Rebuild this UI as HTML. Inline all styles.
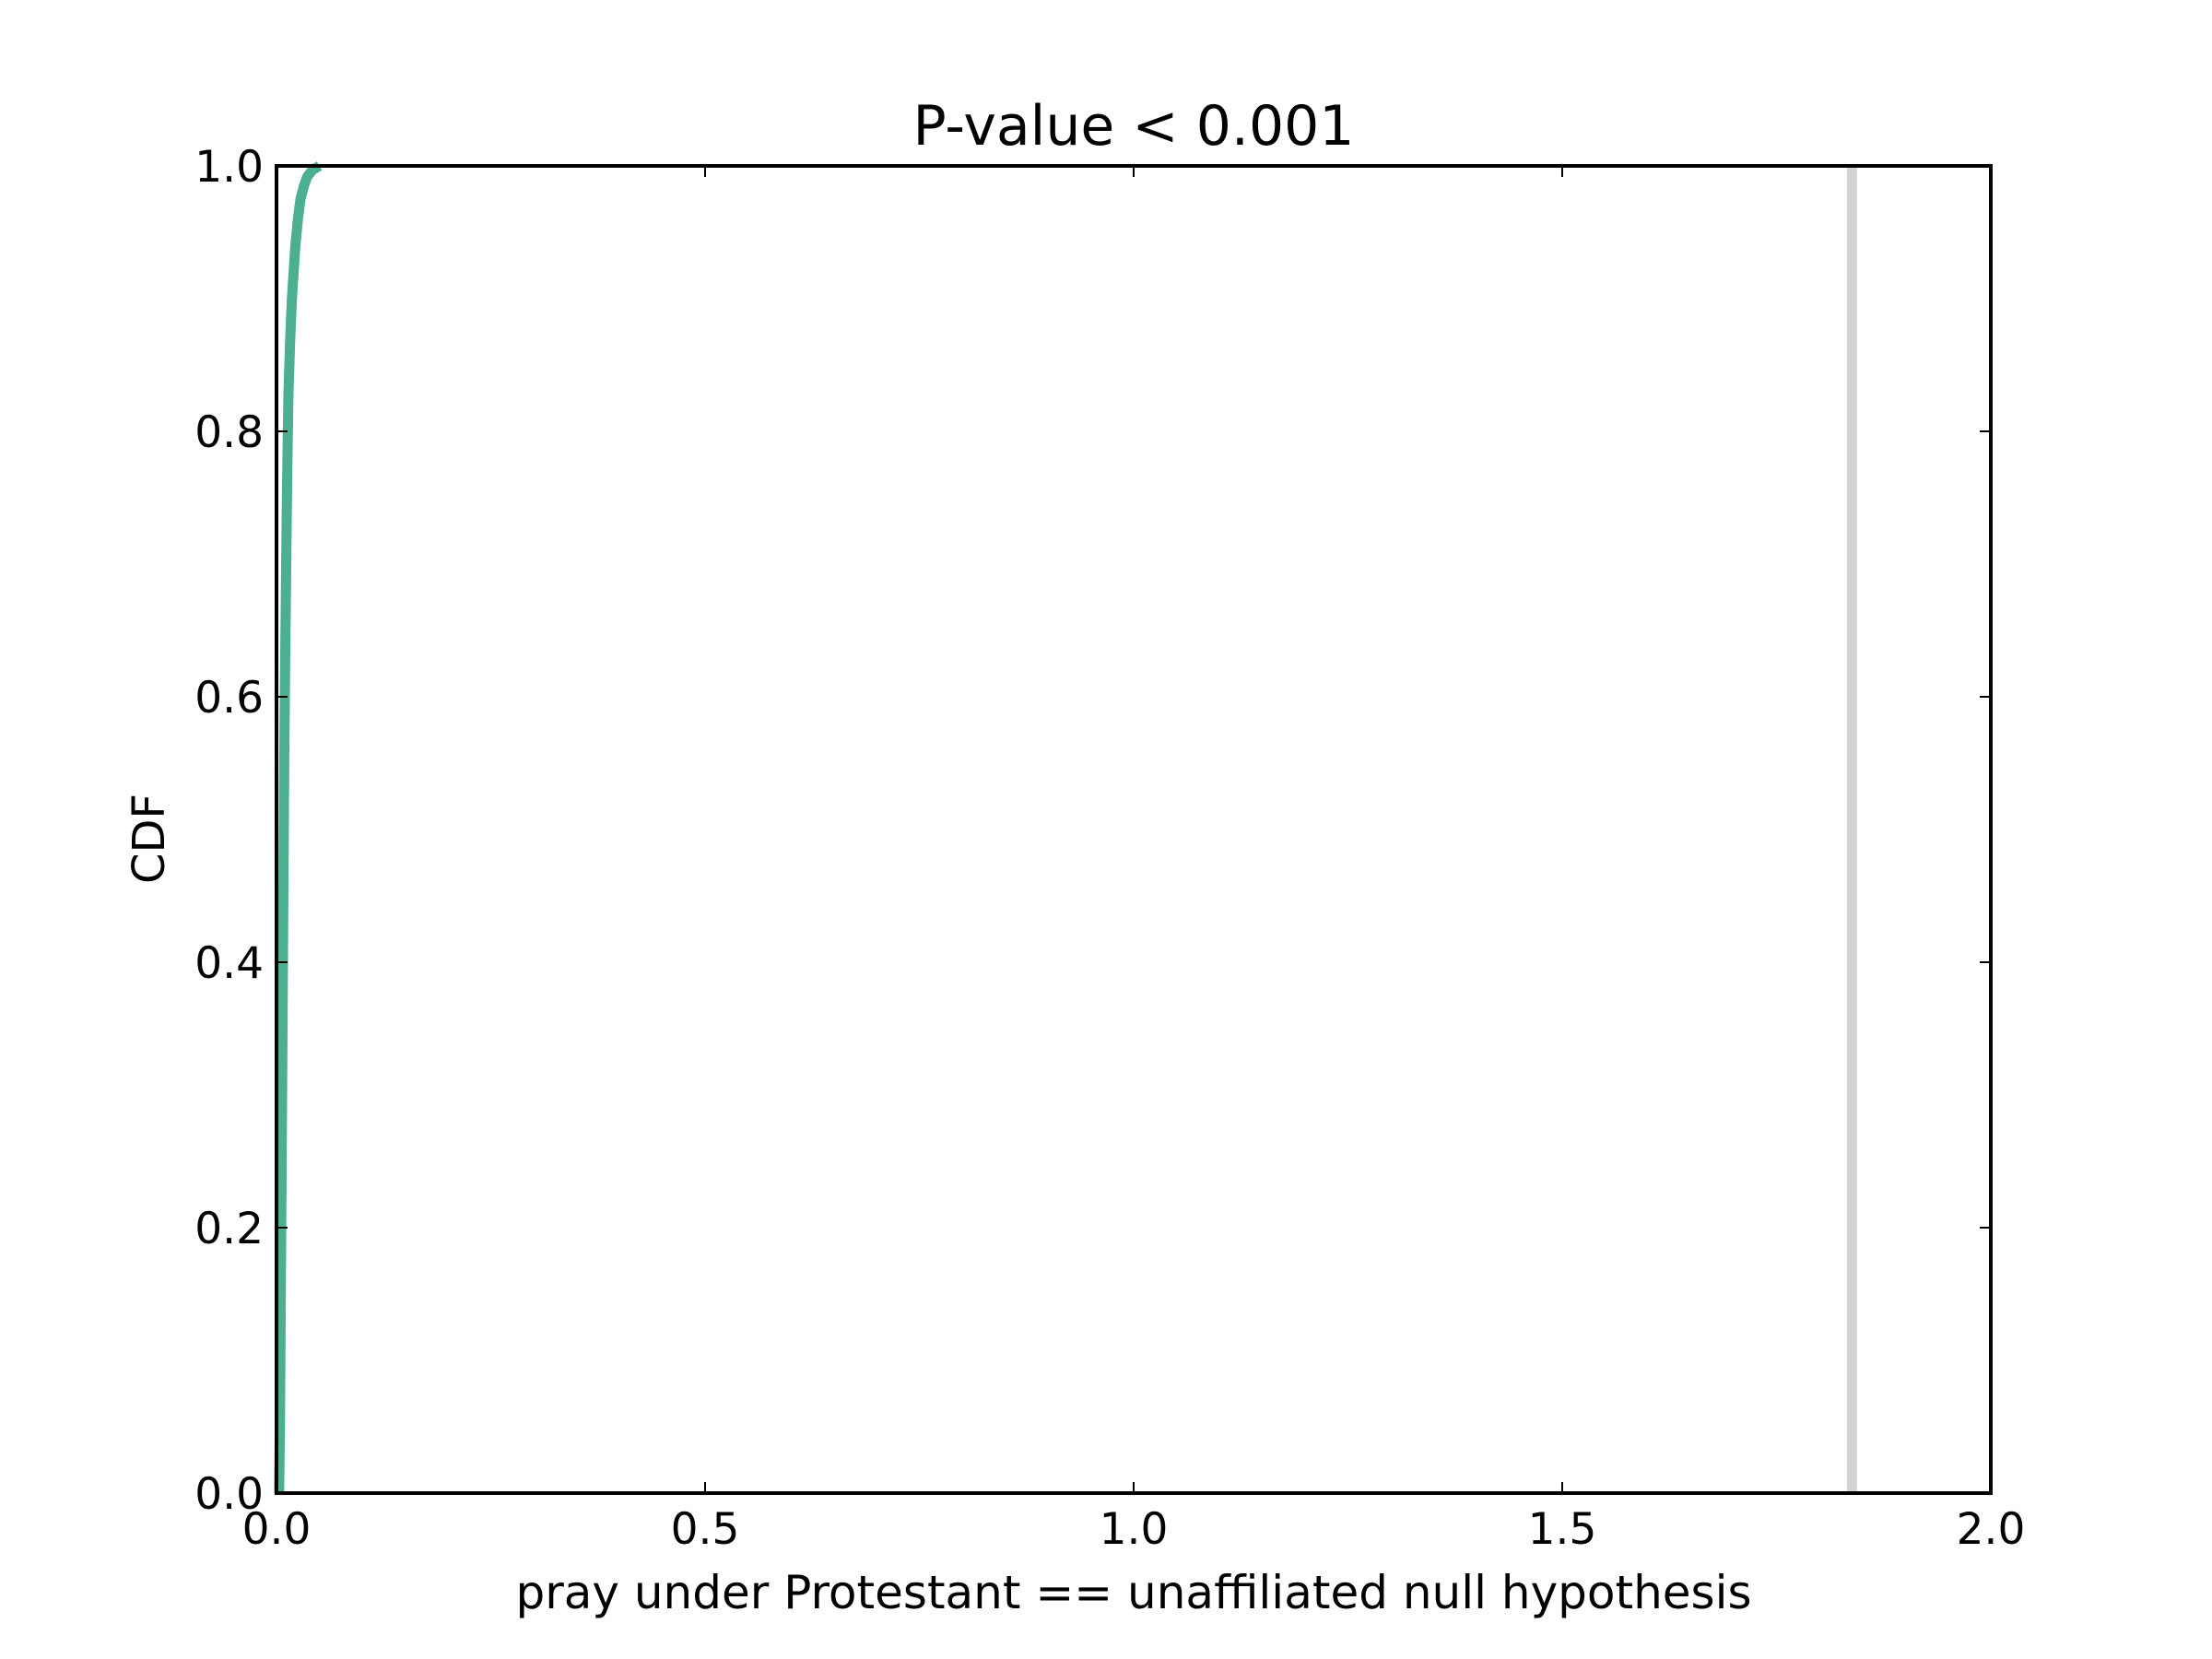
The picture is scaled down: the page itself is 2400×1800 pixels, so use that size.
<!DOCTYPE html>
<html><head><meta charset="utf-8"><style>
html,body{margin:0;padding:0;background:#fff;}
svg{display:block;font-family:"DejaVu Sans","Liberation Sans",sans-serif;}
</style></head><body>
<svg id="chart" width="2400" height="1800">
<g id="plot"></g>
</svg>
<script>
const xs=[0.003,0.004,0.005,0.006,0.007,0.008,0.009,0.010,0.011,0.012,0.013,0.014,0.016,0.018,0.020,0.022,0.025,0.028,0.032,0.036,0.042,0.050];
const cdf=[0.0,0.05,0.15,0.25,0.35,0.45,0.55,0.62,0.68,0.74,0.79,0.83,0.87,0.90,0.92,0.94,0.96,0.975,0.985,0.992,0.997,1.0];
const xTicks=[0,0.5,1.0,1.5,2.0];
const xTickLabels=["0.0","0.5","1.0","1.5","2.0"];
const yTicks=[0,0.2,0.4,0.6,0.8,1.0];
const yTickLabels=["0.0","0.2","0.4","0.6","0.8","1.0"];
const observed=[1.838];
const L=300,R=2160,T=180,B=1620;
const sx=v=>L+(v-0)/(2-0)*(R-L);
const sy=v=>B-(v-0)/(1-0)*(B-T);
const NS="http://www.w3.org/2000/svg";
const g=document.getElementById('plot');
function mk(t,a){const e=document.createElementNS(NS,t);for(const k in a)e.setAttribute(k,a[k]);g.appendChild(e);return e;}
observed.forEach(v=>{const l=mk('line',{x1:sx(v),x2:sx(v),y1:T,y2:B,stroke:'#d4d4d4','stroke-width':11});

});
const p=mk('polyline',{points:xs.map((x,i)=>sx(x)+','+sy(cdf[i])).join(' '),fill:'none',stroke:'#4daf91','stroke-width':11,'stroke-linejoin':'round'});


const fr=mk('rect',{x:L,y:T,width:R-L,height:B-T,fill:'none',stroke:'#000','stroke-width':4});


xTicks.forEach((v,i)=>{const x=sx(v);
mk('line',{x1:x,x2:x,y1:B,y2:B-12,stroke:'#000','stroke-width':2});
mk('line',{x1:x,x2:x,y1:T,y2:T+12,stroke:'#000','stroke-width':2});
const t=mk('text',{x:x,y:B+55,'font-size':47,'text-anchor':'middle'});t.textContent=xTickLabels[i];

});
yTicks.forEach((v,i)=>{const y=sy(v);
mk('line',{x1:L,x2:L+12,y1:y,y2:y,stroke:'#000','stroke-width':2});
mk('line',{x1:R,x2:R-12,y1:y,y2:y,stroke:'#000','stroke-width':2});
const t=mk('text',{x:L-14,y:y+17,'font-size':47,'text-anchor':'end'});t.textContent=yTickLabels[i];

});
</script>
<svg style="position:absolute;left:0;top:0" width="2400" height="1800">
<text x="1230" y="157" font-size="60" text-anchor="middle">P-value &lt; 0.001</text>
<text x="1230" y="1745" font-size="50" text-anchor="middle">pray under Protestant == unaffiliated null hypothesis</text>
<text x="178" y="910" font-size="48" text-anchor="middle" transform="rotate(-90 178 910)">CDF</text>
</svg>
</body></html>
